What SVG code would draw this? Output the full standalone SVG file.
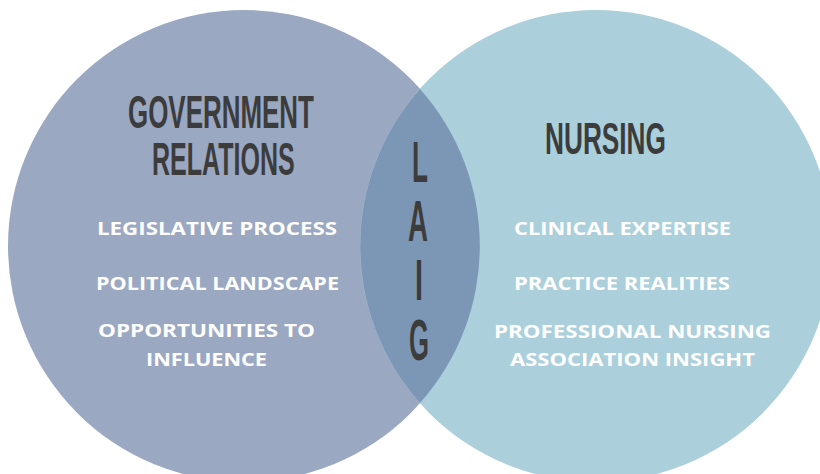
<svg xmlns="http://www.w3.org/2000/svg" width="820" height="474" viewBox="0 0 820 474">
<style>
.title{font-family:"Liberation Sans","DejaVu Sans",sans-serif;font-weight:bold;fill:#3c3c3c;}
.item{font-family:"Open Sans","Noto Sans","Liberation Sans",sans-serif;font-weight:700;font-size:17px;fill:#ffffff;}
.laig{font-family:"Liberation Sans","DejaVu Sans",sans-serif;font-weight:bold;font-size:58px;fill:#3c3c3c;}
</style>
<rect width="820" height="474" fill="#ffffff"/>
<g id="government-relations">
<circle cx="244" cy="246" r="236" fill="#9aa8c2"/>
</g>
<g id="nursing">
<circle cx="596" cy="246" r="236" fill="#abcfdb"/>
</g>
<g id="laig">
<path d="M420,89 A236,236 0 0 1 420,403 A236,236 0 0 1 420,89 Z" fill="#7c97b5"/>
<text class="laig"><tspan x="412" y="182" textLength="16" lengthAdjust="spacingAndGlyphs">L</tspan><tspan x="408" y="241" textLength="20" lengthAdjust="spacingAndGlyphs">A</tspan><tspan x="415" y="300" textLength="8" lengthAdjust="spacingAndGlyphs">I</tspan><tspan x="409" y="360" textLength="20" lengthAdjust="spacingAndGlyphs">G</tspan></text>
</g>
<g id="government-relations-text">
<text class="title" transform="translate(128,128) scale(0.56,1)" x="0" y="0" font-size="46" textLength="332" lengthAdjust="spacingAndGlyphs">GOVERNMENT</text>
<text class="title" transform="translate(152,175) scale(0.56,1)" x="0" y="0" font-size="46" textLength="255" lengthAdjust="spacingAndGlyphs">RELATIONS</text>
<text class="item" x="97" y="235" textLength="240" lengthAdjust="spacingAndGlyphs">LEGISLATIVE PROCESS</text>
<text class="item" x="96" y="290" textLength="243" lengthAdjust="spacingAndGlyphs">POLITICAL LANDSCAPE</text>
<text class="item" x="98" y="337" textLength="217" lengthAdjust="spacingAndGlyphs">OPPORTUNITIES TO</text>
<text class="item" x="146" y="366" textLength="121" lengthAdjust="spacingAndGlyphs">INFLUENCE</text>
</g>
<g id="nursing-text">
<text class="title" transform="translate(545,154) scale(0.56,1)" x="0" y="0" font-size="45" textLength="216" lengthAdjust="spacingAndGlyphs">NURSING</text>
<text class="item" x="514" y="235" textLength="217" lengthAdjust="spacingAndGlyphs">CLINICAL EXPERTISE</text>
<text class="item" x="514" y="290" textLength="216" lengthAdjust="spacingAndGlyphs">PRACTICE REALITIES</text>
<text class="item" x="494" y="338" textLength="277" lengthAdjust="spacingAndGlyphs">PROFESSIONAL NURSING</text>
<text class="item" x="510" y="366" textLength="245" lengthAdjust="spacingAndGlyphs">ASSOCIATION INSIGHT</text>
</g>
</svg>
